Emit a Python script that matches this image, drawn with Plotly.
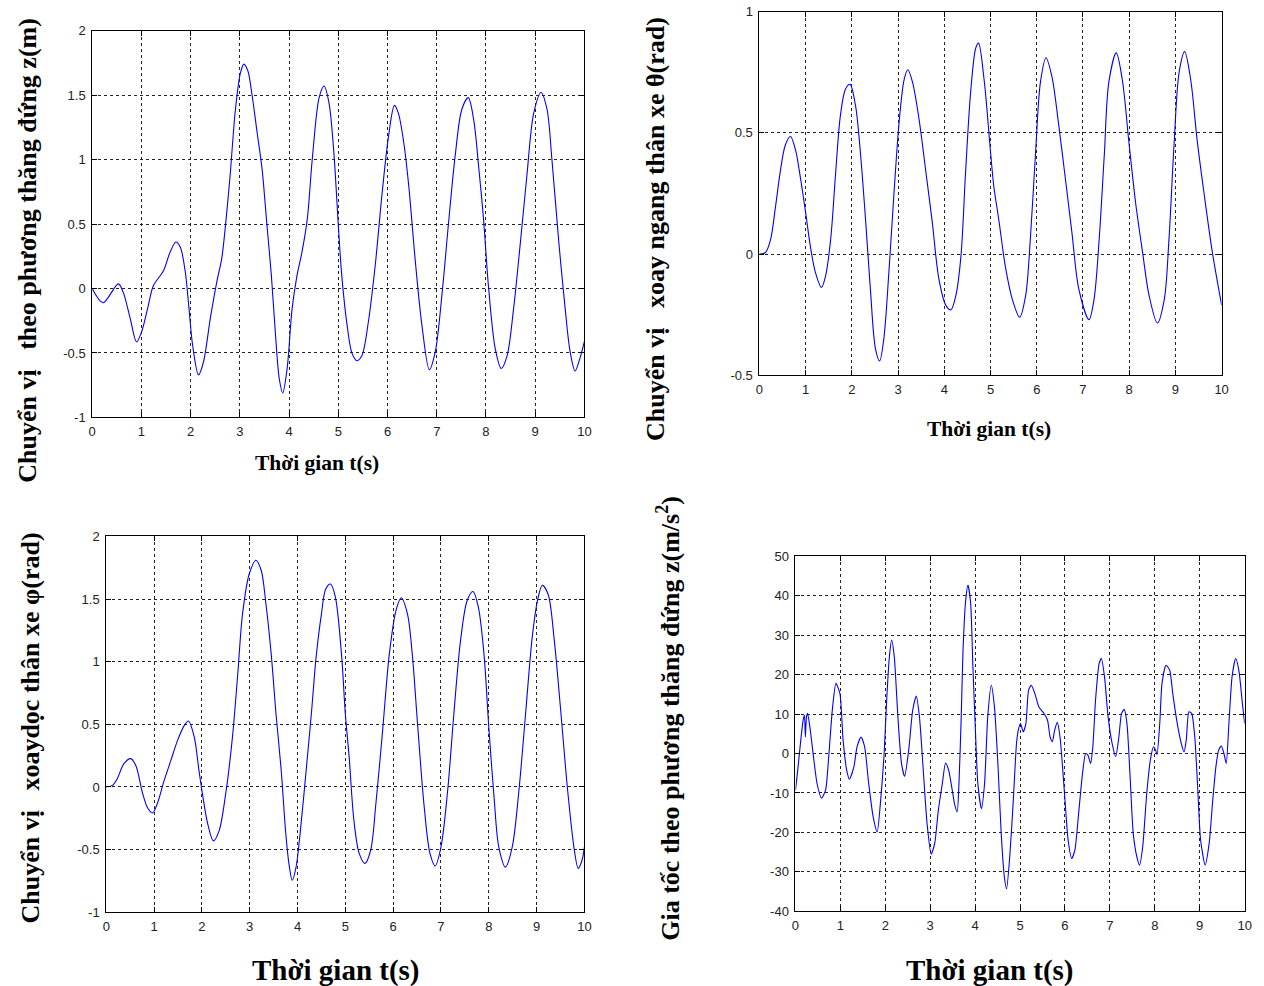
import plotly.graph_objects as go

# ---------------- data ----------------
t_z = [0, 0.22, 0.53, 0.63, 0.77, 0.90, 1.0, 1.14, 1.24, 1.45, 1.58, 1.70, 1.79, 1.89, 1.96, 2.04, 2.16, 2.26, 2.40, 2.53,
       2.63, 2.70, 2.80, 2.91, 3.01, 3.08, 3.16, 3.24, 3.35, 3.45, 3.55, 3.64, 3.72, 3.80, 3.87, 3.96, 4.06, 4.16, 4.26, 4.37,
       4.47, 4.61, 4.71, 4.81, 4.91, 5.0, 5.07, 5.18, 5.28, 5.38, 5.48, 5.61, 5.75, 5.89, 6.02, 6.14, 6.22, 6.33, 6.43, 6.56,
       6.70, 6.85, 6.97, 7.11, 7.24, 7.38, 7.51, 7.64, 7.75, 7.85, 7.95, 8.05, 8.19, 8.31, 8.43, 8.56, 8.70, 8.83, 8.97, 9.12,
       9.24, 9.34, 9.48, 9.61, 9.71, 9.81, 9.91, 10.0]
z_disp = [0, -0.11, 0.036, -0.03, -0.23, -0.415, -0.34, -0.13, 0.02, 0.14, 0.28, 0.36, 0.32, 0.13, -0.13, -0.44, -0.67, -0.57, -0.23, 0.05,
          0.23, 0.46, 0.87, 1.39, 1.67, 1.74, 1.69, 1.52, 1.21, 0.93, 0.49, 0.10, -0.34, -0.70, -0.81, -0.62, -0.16, 0.10, 0.28, 0.54,
          1.0, 1.48, 1.57, 1.44, 1.05, 0.49, 0.10, -0.29, -0.505, -0.56, -0.52, -0.26, 0.18, 0.74, 1.18, 1.42, 1.36, 1.13, 0.80, 0.23,
          -0.29, -0.63, -0.49, -0.03, 0.51, 1.05, 1.39, 1.48, 1.31, 0.95, 0.54, 0.02, -0.47, -0.62, -0.52, -0.16, 0.36, 0.87, 1.36, 1.52,
          1.39, 1.0, 0.36, -0.16, -0.49, -0.64, -0.54, -0.41]

t_theta = [0, 0.13, 0.24, 0.35, 0.45, 0.56, 0.67, 0.78, 0.89, 1.0, 1.10, 1.21, 1.34, 1.43, 1.54, 1.65, 1.75, 1.86, 1.96, 2.08,
           2.19, 2.30, 2.40, 2.51, 2.60, 2.69, 2.80, 2.91, 3.02, 3.13, 3.21, 3.31, 3.45, 3.60, 3.74, 3.88, 4.03, 4.14, 4.25, 4.36,
           4.46, 4.57, 4.68, 4.74, 4.86, 5.0, 5.07, 5.18, 5.32, 5.47, 5.63, 5.76, 5.86, 5.97, 6.08, 6.20, 6.33, 6.47, 6.62, 6.76,
           6.91, 7.13, 7.24, 7.35, 7.46, 7.56, 7.72, 7.85, 8.0, 8.14, 8.29, 8.43, 8.61, 8.76, 8.86, 8.97, 9.08, 9.20, 9.33, 9.47,
           9.62, 9.80, 10.0]
theta = [0, 0.007, 0.06, 0.20, 0.34, 0.45, 0.485, 0.43, 0.31, 0.17, 0.034, -0.075, -0.137, -0.09, 0.06, 0.34, 0.57, 0.68, 0.70, 0.61,
         0.405, 0.13, -0.144, -0.39, -0.44, -0.35, -0.075, 0.25, 0.54, 0.72, 0.76, 0.71, 0.56, 0.34, 0.13, -0.10, -0.21, -0.23, -0.17, -0.007,
         0.34, 0.67, 0.85, 0.87, 0.72, 0.42, 0.28, 0.14, -0.05, -0.185, -0.26, -0.17, 0.06, 0.405, 0.71, 0.81, 0.73, 0.54, 0.31, 0.09,
         -0.144, -0.27, -0.185, 0.06, 0.405, 0.71, 0.83, 0.72, 0.45, 0.21, 0.007, -0.17, -0.284, -0.185, 0.06, 0.45, 0.75, 0.835, 0.72, 0.47,
         0.25, 0.007, -0.21]

t_phi = [0, 0.13, 0.23, 0.37, 0.51, 0.62, 0.76, 0.87, 0.97, 1.07, 1.21, 1.35, 1.49, 1.63, 1.72, 1.84, 1.94, 2.01, 2.12, 2.24,
         2.36, 2.50, 2.64, 2.75, 2.85, 2.99, 3.13, 3.24, 3.34, 3.45, 3.55, 3.66, 3.75, 3.82, 3.89, 3.97, 4.06, 4.18, 4.29, 4.39,
         4.50, 4.59, 4.69, 4.79, 4.92, 5.0, 5.08, 5.18, 5.29, 5.41, 5.53, 5.64, 5.78, 5.92, 6.06, 6.17, 6.30, 6.40, 6.51, 6.65,
         6.77, 6.88, 7.0, 7.14, 7.27, 7.41, 7.55, 7.67, 7.78, 7.90, 8.0, 8.11, 8.21, 8.35, 8.49, 8.63, 8.77, 8.91, 9.02, 9.12,
         9.24, 9.37, 9.51, 9.65, 9.79, 9.87, 9.95, 10.0]
phi = [0, 0.013, 0.066, 0.186, 0.226, 0.17, -0.05, -0.17, -0.207, -0.13, 0.05, 0.21, 0.37, 0.49, 0.527, 0.40, 0.13, -0.05, -0.29, -0.43,
       -0.35, -0.05, 0.40, 0.90, 1.38, 1.70, 1.81, 1.73, 1.46, 1.06, 0.585, 0.13, -0.35, -0.61, -0.745, -0.64, -0.35, 0.13, 0.585, 1.04,
       1.38, 1.58, 1.62, 1.52, 1.06, 0.585, 0.24, -0.27, -0.53, -0.61, -0.505, -0.13, 0.45, 1.06, 1.41, 1.51, 1.38, 1.06, 0.505, -0.16,
       -0.53, -0.63, -0.48, -0.03, 0.585, 1.17, 1.49, 1.56, 1.44, 1.06, 0.48, -0.08, -0.48, -0.64, -0.48, -0.03, 0.585, 1.20, 1.49, 1.61,
       1.54, 1.17, 0.585, -0.03, -0.505, -0.65, -0.585, -0.48]

t_acc = [0, 0.05, 0.11, 0.17, 0.20, 0.22, 0.245, 0.27, 0.33, 0.41,
         0.48, 0.58, 0.67, 0.74, 0.82, 0.90, 0.99, 1.06, 1.14, 1.20,
         1.30, 1.37, 1.46, 1.54, 1.63, 1.73, 1.82, 1.89, 1.97, 2.03,
         2.09, 2.14, 2.20, 2.28, 2.36, 2.43, 2.52, 2.61, 2.69, 2.76,
         2.84, 2.93, 3.02, 3.10, 3.18, 3.27, 3.34, 3.41, 3.49, 3.54,
         3.60, 3.64, 3.69, 3.73, 3.79, 3.84, 3.90, 3.95, 4.0, 4.06,
         4.14, 4.21, 4.28, 4.36, 4.43, 4.51, 4.58, 4.65, 4.70, 4.77,
         4.85, 4.92, 4.96, 5.01, 5.07, 5.13, 5.19, 5.25, 5.33, 5.42,
         5.53, 5.61, 5.67, 5.72, 5.77, 5.83, 5.89, 5.94, 6.0, 6.07,
         6.15, 6.22, 6.31, 6.39, 6.46, 6.51, 6.57, 6.62, 6.68, 6.76,
         6.81, 6.88, 6.96, 7.05, 7.13, 7.20, 7.26, 7.32, 7.38, 7.45,
         7.52, 7.60, 7.66, 7.73, 7.82, 7.90, 7.97, 8.02, 8.05, 8.11,
         8.16, 8.25, 8.33, 8.40, 8.50, 8.59, 8.65, 8.70, 8.76, 8.82,
         8.89, 8.95, 9.02, 9.12, 9.21, 9.29, 9.36, 9.42, 9.48, 9.54,
         9.59, 9.65, 9.72, 9.80, 9.87, 9.95, 10.0]
acc = [-9.3, -4.2, 2.5, 8.5, 9.7, 4.2, 9.3, 10.2, 5.9, -1.7,
       -7.6, -11.3, -9.3, -0.8, 11.0, 17.8, 15.2, 3.4, -4.2, -6.5,
       -3.4, 1.7, 4.2, 1.7, -7.6, -16.1, -19.9, -12.7, -0.8, 13.5,
       24.5, 28.8, 24.5, 9.3, -2.5, -5.8, 0.8, 11.0, 14.6, 9.3,
       -3.4, -17.8, -25.5, -22.8, -14.4, -7.6, -2.4, -4.2, -9.3, -12.7,
       -14.8, -7.6, 9.3, 26.2, 38.9, 42.7, 38.1, 22.0, 7.6, -7.6,
       -14.0, -7.6, 9.3, 17.3, 11.8, -3.4, -20.3, -31.3, -34.3, -26.2,
       -11.8, 2.5, 5.9, 7.6, 5.5, 7.6, 16.1, 17.3, 15.2, 11.8,
       10.2, 8.5, 4.2, 3.0, 5.9, 7.9, 4.2, -2.5, -11.8, -22.0,
       -26.6, -24.5, -14.4, -5.1, 0, -0.4, -2.5, 1.7, 13.5, 22.8,
       24.1, 19.5, 9.3, 2.5, -0.8, 4.2, 10.2, 11.2, 7.6, -5.9,
       -20.3, -26.2, -28.3, -23.7, -10.2, -1.7, 1.7, 0.8, -0.2, 7.6,
       17.8, 22.4, 21.2, 15.2, 7.6, 2.5, 0.4, 3.4, 10.6, 10.2,
       4.2, -7.6, -22.0, -28.3, -22.8, -11.8, -3.4, 0.8, 1.9, 0,
       -2.5, 7.6, 19.5, 24.1, 21.2, 12.7, 7.6]

x_ticks = [0, 1, 2, 3, 4, 5, 6, 7, 8, 9, 10]
y_ticks_z = [-1, -0.5, 0, 0.5, 1, 1.5, 2]
y_labels_z = ["-1", "-0.5", "0", "0.5", "1", "1.5", "2"]
y_ticks_theta = [-0.5, 0, 0.5, 1]
y_labels_theta = ["-0.5", "0", "0.5", "1"]
y_ticks_phi = [-1, -0.5, 0, 0.5, 1, 1.5, 2]
y_labels_phi = ["-1", "-0.5", "0", "0.5", "1", "1.5", "2"]
y_ticks_acc = [-40, -30, -20, -10, 0, 10, 20, 30, 40, 50]
y_labels_acc = ["-40", "-30", "-20", "-10", "0", "10", "20", "30", "40", "50"]

ytitle_z = "Chuyển vị\u00a0\u00a0 theo phương thăng đứng z(m)"
ytitle_theta = "Chuyển vị\u00a0\u00a0 xoay ngang thân xe θ(rad)"
ytitle_phi = "Chuyển vị\u00a0\u00a0 xoaydọc thân xe φ(rad)"
ytitle_acc = "Gia tốc theo phương thăng đứng z(m/s<sup>2</sup>)"
xtitle = "Thời gian t(s)"

# ---------------- layout geometry ----------------
# Measured: the photographed page shows figure pixel p at  A + S * p.
# Invert that so the panels land where the reference has them.
SX, AX = 0.991, 3.8
SY, AY = 0.9853, 6.4
W = 1272
H = 995


def fx(px):
    return (px - AX) / SX


def fy(py):
    return (py - AY) / SY


def dom_x(a, b):
    return [fx(a) / W, fx(b) / W]


def dom_y(top, bottom):
    return [1 - fy(bottom) / H, 1 - fy(top) / H]


LINE = "#0000ff"
TICKFONT = dict(family="Liberation Sans, Arial, sans-serif", size=13, color="#222222")
TITLEFONT = "Liberation Serif, Times New Roman, serif"

panels = [
    dict(t=t_z, y=z_disp, xd=dom_x(92, 584), yd=dom_y(30, 417), yr=[-1, 2], yt=y_ticks_z, yl=y_labels_z, sm=0.9),
    dict(t=t_theta, y=theta, xd=dom_x(759, 1221), yd=dom_y(11, 375), yr=[-0.5, 1], yt=y_ticks_theta, yl=y_labels_theta, sm=0.9),
    dict(t=t_phi, y=phi, xd=dom_x(106, 584), yd=dom_y(536, 912), yr=[-1, 2], yt=y_ticks_phi, yl=y_labels_phi, sm=0.9),
    dict(t=t_acc, y=acc, xd=dom_x(795, 1244), yd=dom_y(556, 911), yr=[-40, 50], yt=y_ticks_acc, yl=y_labels_acc, sm=0.6),
]

fig = go.Figure()
layout_axes = {}
for i, p in enumerate(panels, start=1):
    sfx = "" if i == 1 else str(i)
    fig.add_trace(go.Scatter(
        x=p["t"], y=p["y"], mode="lines",
        line=dict(color=LINE, width=1.1, shape="spline", smoothing=p["sm"]),
        xaxis="x" + sfx, yaxis="y" + sfx, showlegend=False, hoverinfo="skip",
    ))
    common = dict(
        showline=True, linecolor="black", linewidth=1, mirror="ticks",
        ticks="inside", ticklen=5, tickcolor="black", tickwidth=1,
        showgrid=True, gridcolor="#222222", gridwidth=1, griddash="3px,3px",
        zeroline=False, tickfont=TICKFONT, fixedrange=True,
    )
    layout_axes["xaxis" + sfx] = dict(
        domain=p["xd"], range=[0, 10], anchor="y" + sfx,
        tickmode="array", tickvals=x_ticks, ticktext=[str(v) for v in x_ticks],
        ticklabelstandoff=2, **common)
    layout_axes["yaxis" + sfx] = dict(
        domain=p["yd"], range=p["yr"], anchor="x" + sfx,
        tickmode="array", tickvals=p["yt"], ticktext=p["yl"],
        ticklabelstandoff=3, **common)

fig.update_layout(**layout_axes)


def ann(text, px, py, size, angle=0):
    return dict(text="<b>" + text + "</b>", x=fx(px) / W, y=1 - fy(py) / H, xref="paper", yref="paper",
                xanchor="center", yanchor="middle", showarrow=False, textangle=angle,
                font=dict(family=TITLEFONT, size=size, color="black"))


annotations = [
    ann(ytitle_z, 27, 250, 26, -90),
    ann(ytitle_theta, 655, 228, 26, -90),
    ann(ytitle_phi, 30, 728, 26, -90),
    ann(ytitle_acc, 668, 718, 26, -90),
    ann(xtitle, 317, 463, 21.5),
    ann(xtitle, 988, 429, 21.5),
    ann(xtitle, 336, 970, 29),
    ann(xtitle, 989, 970, 29),
]

fig.update_layout(
    width=W, height=H, margin=dict(l=0, r=0, t=0, b=0),
    paper_bgcolor="white", plot_bgcolor="white",
    annotations=annotations, showlegend=False,
)

fig.write_html("out.html", config={"displayModeBar": False})
